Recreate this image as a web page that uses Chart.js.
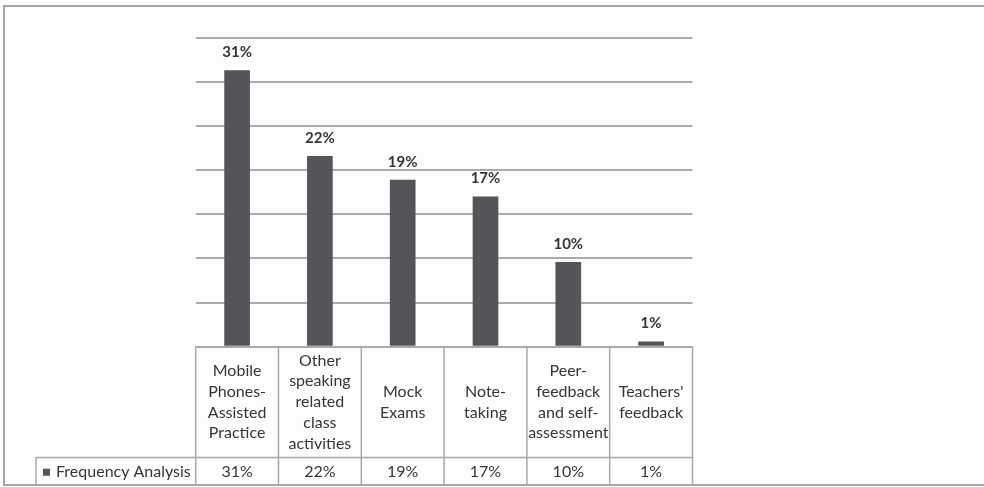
<!DOCTYPE html>
<html>
<head>
<meta charset="utf-8">
<script src="https://cdn.jsdelivr.net/npm/chart.js@4.4.1/dist/chart.umd.min.js"></script>
<style>
  html, body { margin: 0; padding: 0; background: #fdfdfd; }
  #wrap { position: relative; width: 984px; height: 487px; }
</style>
</head>
<body>
<div id="wrap"><canvas id="c" width="984" height="487"></canvas></div>
<script>
// ---- data ----
const categories = [
  ["Mobile", "Phones-", "Assisted", "Practice"],
  ["Other", "speaking", "related", "class", "activities"],
  ["Mock", "Exams"],
  ["Note-", "taking"],
  ["Peer-", "feedback", "and self-", "assessment"],
  ["Teachers'", "feedback"]
];
const seriesName = "Frequency Analysis";
const frequency = [31.3, 21.6, 18.9, 17.0, 9.6, 0.6];
const yTicks = { min: 0, max: 35, step: 5 };

const FONT = "Lato, 'Open Sans', 'DejaVu Sans', sans-serif";
const TEXT = "#363636";
const LINE = "#a9a9a9";
const BAR = "#555559";
const fmt = v => Math.round(v) + "%";

const tablePlugin = {
  id: "tablePlugin",
  beforeDraw(chart) {
    const ctx = chart.ctx;
    ctx.save();
    ctx.fillStyle = "#fdfdfd";
    ctx.fillRect(0, 0, chart.width, chart.height);
    ctx.strokeStyle = "#a6a6a6";
    ctx.lineWidth = 2;
    ctx.beginPath();
    ctx.moveTo(984, 6); ctx.lineTo(4, 6); ctx.lineTo(4, 485); ctx.lineTo(984, 485);
    ctx.stroke();
    ctx.restore();
  },
  afterDatasetsDraw(chart) {
    const ctx = chart.ctx;
    const meta = chart.getDatasetMeta(0);
    ctx.save();
    ctx.fillStyle = TEXT;
    ctx.font = "bold 15px " + FONT;
    ctx.textAlign = "center";
    ctx.textBaseline = "middle";
    meta.data.forEach((bar, i) => {
      ctx.fillText(fmt(frequency[i]), bar.x, bar.y - 18);
    });
    ctx.restore();
  },
  afterDraw(chart) {
    const ctx = chart.ctx;
    const xs = chart.scales.x;
    const area = chart.chartArea;
    const n = categories.length;
    const half = (area.right - area.left) / n / 2;
    const rowTop = area.bottom;
    const rowMid = 457.5;
    const rowBot = 485;
    const legendLeft = 36;
    ctx.save();
    ctx.strokeStyle = LINE;
    ctx.lineWidth = 1.5;
    ctx.beginPath();
    ctx.moveTo(area.left, rowTop); ctx.lineTo(area.right, rowTop);
    ctx.moveTo(legendLeft, rowMid); ctx.lineTo(area.right, rowMid);
    for (let i = 0; i < n; i++) {
      const cx = xs.getPixelForValue(i);
      ctx.moveTo(cx - half, rowTop); ctx.lineTo(cx - half, rowBot);
      if (i === n - 1) { ctx.moveTo(cx + half, rowTop); ctx.lineTo(cx + half, rowBot); }
    }
    ctx.moveTo(legendLeft, rowMid); ctx.lineTo(legendLeft, rowBot);
    ctx.stroke();

    ctx.fillStyle = TEXT;
    ctx.font = "16px " + FONT;
    ctx.textAlign = "center";
    ctx.textBaseline = "middle";
    const lh = 20.8;
    const cellMid = (rowTop + rowMid) / 2;
    categories.forEach((lines, i) => {
      const cx = xs.getPixelForValue(i);
      const start = cellMid - (lines.length - 1) * lh / 2;
      lines.forEach((t, k) => ctx.fillText(t, cx, start + k * lh));
    });
    const dataMid = (rowMid + rowBot) / 2 + 1;
    frequency.forEach((v, i) => {
      ctx.fillText(fmt(v), xs.getPixelForValue(i), dataMid);
    });
    ctx.fillStyle = BAR;
    ctx.fillRect(43, dataMid - 3.5, 7, 7);
    ctx.fillStyle = TEXT;
    ctx.textAlign = "left";
    ctx.fillText(seriesName, 56, dataMid);
    ctx.restore();
  }
};

new Chart(document.getElementById("c"), {
  type: "bar",
  data: {
    labels: categories.map(l => l.join(" ")),
    datasets: [{
      label: seriesName,
      data: frequency,
      backgroundColor: BAR,
      borderWidth: 0,
      barPercentage: 0.31,
      categoryPercentage: 1.0
    }]
  },
  options: {
    responsive: false,
    animation: false,
    layout: { padding: { left: 195.7, right: 291.5, top: 37.5, bottom: 140.3 } },
    plugins: { legend: { display: false }, tooltip: { enabled: false } },
    scales: {
      x: { display: false },
      y: {
        min: yTicks.min, max: yTicks.max,
        ticks: { stepSize: yTicks.step, display: false },
        grid: { color: "#ababab", lineWidth: 2, drawTicks: false },
        border: { display: false }
      }
    }
  },
  plugins: [tablePlugin]
});
</script>
</body>
</html>
